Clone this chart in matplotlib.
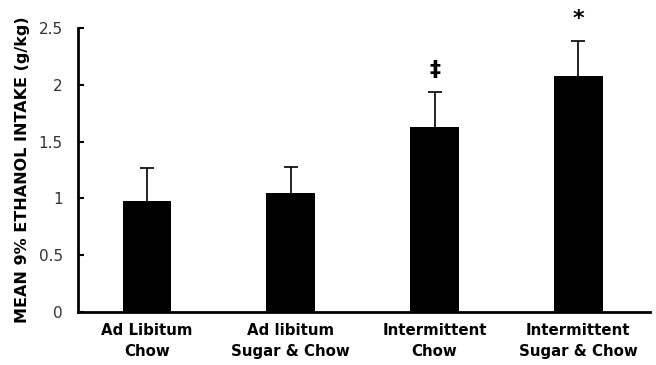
import matplotlib.pyplot as plt
import numpy as np

# Дані
groups = ['Ad Libitum\nChow', 'Ad libitum\nSugar & Chow',
          'Intermittent\nChow', 'Intermittent\nSugar & Chow']
means = [0.98, 1.05, 1.63, 2.08]
errors = [0.29, 0.23, 0.31, 0.31]
marks = ['', '', '‡', '*']

fig = plt.figure(figsize=(6.56, 3.65), dpi=100)
ax = fig.add_axes([0.119, 0.145, 0.872, 0.778])

x = np.arange(len(groups))
ax.bar(x, means, width=0.34, color='black', zorder=3)
eb = ax.errorbar(x, means, yerr=[np.zeros(len(errors)), errors], fmt='none',
                 ecolor='black', elinewidth=1.2, capsize=5, capthick=1.2, zorder=2)
# прибираємо нижній "кап" на верхівці стовпця
eb[1][0].set_visible(False)

for xi, m, e, s in zip(x, means, errors, marks):
    if s:
        ax.text(xi, m + e + 0.1, s, ha='center', va='bottom',
                fontsize=16, fontweight='bold')

ax.set_xlim(-0.48, 3.5)
ax.set_ylim(0, 2.5)
ax.set_yticks([0, 0.5, 1, 1.5, 2, 2.5])
ax.set_yticklabels(['0', '0.5', '1', '1.5', '2', '2.5'])
ax.set_xticks(x)
ax.set_xticklabels(groups, fontweight='bold', fontsize=10.8, linespacing=1.5)
ax.tick_params(axis='x', length=0, pad=8)
ax.tick_params(axis='y', direction='in', length=4, width=1.5,
               labelsize=11, labelcolor='#333333', pad=11)

ax.spines['top'].set_visible(False)
ax.spines['right'].set_visible(False)
ax.spines['left'].set_linewidth(2)
ax.spines['bottom'].set_linewidth(2)

ax.set_ylabel('MEAN 9% ETHANOL INTAKE (g/kg)', fontweight='bold', fontsize=11.5,
              labelpad=6)

fig.savefig('out.png', dpi=100)
